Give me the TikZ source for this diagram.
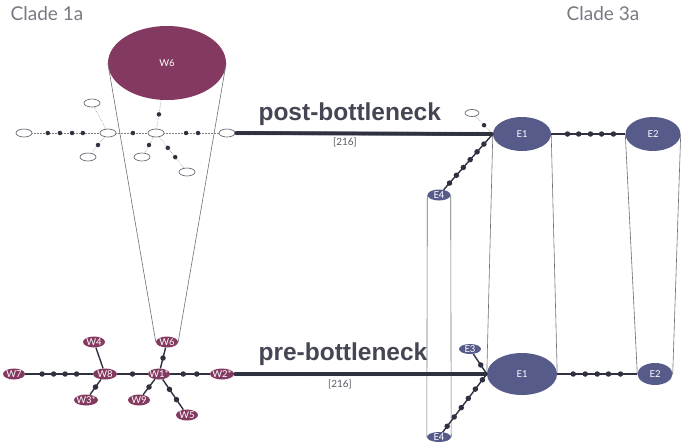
\documentclass[tikz,border=0pt]{standalone}
\usepackage{fontspec}
\setmainfont{Lato}
\newfontfamily\headfont{Liberation Sans}
\usetikzlibrary{shapes.geometric}
\definecolor{wine}{HTML}{843A60}
\definecolor{slate}{HTML}{575B8A}
\definecolor{ink}{HTML}{2F3140}

\begin{document}
\begin{tikzpicture}[x=1pt,y=-1pt,
  hap/.style={ellipse,inner xsep=-3pt,inner ysep=-1pt,text=white,font=\fontsize{9.5}{10}\selectfont},
  wnode/.style={hap,fill=wine,minimum width=22pt,minimum height=11pt},
  enode/.style={hap,fill=slate},
  onode/.style={ellipse,draw=ink!80,fill=white,line width=0.6pt,inner sep=0pt,minimum width=16pt,minimum height=8pt},
  bead/.style={circle,fill=ink,inner sep=0pt,minimum size=5.5pt},
  link/.style={draw=gray,line width=0.5pt,densely dotted},
  wire/.style={draw=ink,line width=1.4pt},
  tube/.style={draw=ink!70,line width=0.6pt}]
  \fill[white] (0,0) rectangle (685,445);
  \useasboundingbox (0,0) rectangle (685,445);

  % post-bottleneck
  \node[wnode,minimum width=118pt,minimum height=74pt] (postW6) at (167,63) {W6};
  \node[onode] (postW7) at (24,133) {};
  \node[onode] (postW8) at (108,133) {};
  \node[onode] (postW1) at (156,133) {};
  \node[onode] (postW2) at (227,133) {};
  \node[onode] (postW4) at (92,103) {};
  \node[onode] (postW3) at (88,157) {};
  \node[onode] (postW9) at (142,157) {};
  \node[onode] (postW5) at (187,172) {};
  \node[enode,minimum width=58pt,minimum height=34pt] (postE1) at (522,134) {E1};
  \node[enode,minimum width=55pt,minimum height=34pt] (postE2) at (653,134) {E2};
  \node[enode,minimum width=23pt,minimum height=11pt] (postE4) at (439,195) {E4};
  \node[onode,minimum width=14pt,minimum height=7pt] (postE3) at (472,113) {};

  % pre-bottleneck
  \node[wnode] (preW7) at (14,374) {W7};
  \node[wnode,minimum width=24pt] (preW8) at (105,374) {W8};
  \node[wnode] (preW1) at (159,374) {W1*};
  \node[wnode,minimum width=24pt] (preW2) at (222,374) {W2*};
  \node[wnode] (preW6) at (167,342) {W6};
  \node[wnode] (preW4) at (94,342) {W4};
  \node[wnode,minimum width=24pt] (preW3) at (86,400) {W3*};
  \node[wnode] (preW9) at (139,400) {W9};
  \node[wnode] (preW5) at (187,415) {W5};
  \node[enode,minimum width=70pt,minimum height=42pt] (preE1) at (522,374) {E1};
  \node[enode,minimum width=35pt,minimum height=22pt] (preE2) at (655,374) {E2};
  \node[enode,minimum width=22pt,minimum height=10pt] (preE3) at (470,349) {E3};
  \node[enode,minimum width=24pt,minimum height=10pt] (preE4) at (439,437) {E4};

  \draw[tube] (postW6.west) -- (preW6.west) (postW6.east) -- (preW6.east);
  \draw[tube] (postE4.west) -- (preE4.west) (postE4.east) -- (preE4.east);
  \draw[tube] (postE1.west) -- (preE1.west) (postE1.east) -- (preE1.east);
  \draw[tube] (postE2.west) -- (preE2.west) (postE2.east) -- (preE2.east);

  \draw[link] (postW7) -- (postW8) foreach \p in {0.23,0.41,0.59,0.75}{node[bead,minimum size=4.5pt,pos=\p]{}};
  \draw[link] (postW8) -- (postW1) node[bead,minimum size=4.5pt,pos=0.53]{};
  \draw[link] (postW1) -- (postW2) foreach \p in {0.4,0.62}{node[bead,minimum size=4.5pt,pos=\p]{}};
  \draw[link] (postW8) -- (postW4);
  \draw[link] (postW8) -- (postW3) node[bead,minimum size=4.5pt,pos=0.5]{};
  \draw[link] (postW1) -- (postW6) node[bead,minimum size=4.5pt,pos=0.5]{};
  \draw[link] (postW1) -- (postW9) node[bead,minimum size=4.5pt,pos=0.5]{};
  \draw[link] (postW1) -- (postW5) foreach \p in {0.35,0.65}{node[bead,minimum size=4.5pt,pos=\p]{}};
  \draw[link] (postE3) -- (postE1.west) node[bead,minimum size=4.5pt,pos=0.5]{};
  \draw[wire] (postE4) -- (postE1.west) foreach \p in {0.12,0.26,0.4,0.54,0.68,0.82}{node[bead,pos=\p]{}};
  \draw[wire] (postE1) -- (postE2) foreach \p in {0.22,0.37,0.53,0.68,0.84}{node[bead,pos=\p]{}};
  \draw[wire,line width=1.5pt] (postW2) -- (postE1.west) foreach \k [evaluate=\k as \p using \k/217] in {1,...,216}{node[bead,minimum size=4pt,pos=\p]{}};

  \draw[wire] (preW7) -- (preW8) foreach \p in {0.25,0.42,0.59,0.76}{node[bead,pos=\p]{}};
  \draw[wire] (preW8) -- (preW1) node[bead,pos=0.5]{};
  \draw[wire] (preW1) -- (preW2) foreach \p in {0.33,0.67}{node[bead,pos=\p]{}};
  \draw[wire] (preW8) -- (preW4);
  \draw[wire] (preW8) -- (preW3) node[bead,pos=0.5]{};
  \draw[wire] (preW1) -- (preW6) node[bead,pos=0.5]{};
  \draw[wire] (preW1) -- (preW9) node[bead,pos=0.5]{};
  \draw[wire] (preW1) -- (preW5) foreach \p in {0.33,0.67}{node[bead,pos=\p]{}};
  \draw[wire] (preE3) -- (preE1.west) node[bead,pos=0.55]{};
  \draw[wire] (preE4) -- (preE1.west) foreach \p in {0.1,0.26,0.42,0.58,0.74,0.9}{node[bead,pos=\p]{}};
  \draw[wire] (preE1) -- (preE2) foreach \p in {0.2,0.35,0.5,0.64,0.79}{node[bead,pos=\p]{}};
  \draw[wire,line width=1.5pt] (preW2) -- (preE1.west) foreach \k [evaluate=\k as \p using \k/217] in {1,...,216}{node[bead,minimum size=4pt,pos=\p]{}};

  % labels
  \node[font=\fontsize{19}{22}\selectfont,text=ink!65] (cladeW) at (47,14) {Clade 1a};
  \node[font=\fontsize{19}{22}\selectfont,text=ink!65] (cladeE) at (603,14) {Clade 3a};
  \node[anchor=base west,font=\headfont\bfseries\fontsize{24.5}{28}\selectfont,text=ink!90] (postLab) at (255,120) {post-bottleneck};
  \node[anchor=base west,font=\headfont\bfseries\fontsize{24.5}{28}\selectfont,text=ink!90] (preLab) at (255,360) {pre-bottleneck};
  \node[font=\fontsize{10}{11}\selectfont,text=ink!80] (postN) at (345,142) {[216]};
  \node[font=\fontsize{10}{11}\selectfont,text=ink!80] (preN) at (340,384) {[216]};
\end{tikzpicture}
\end{document}
